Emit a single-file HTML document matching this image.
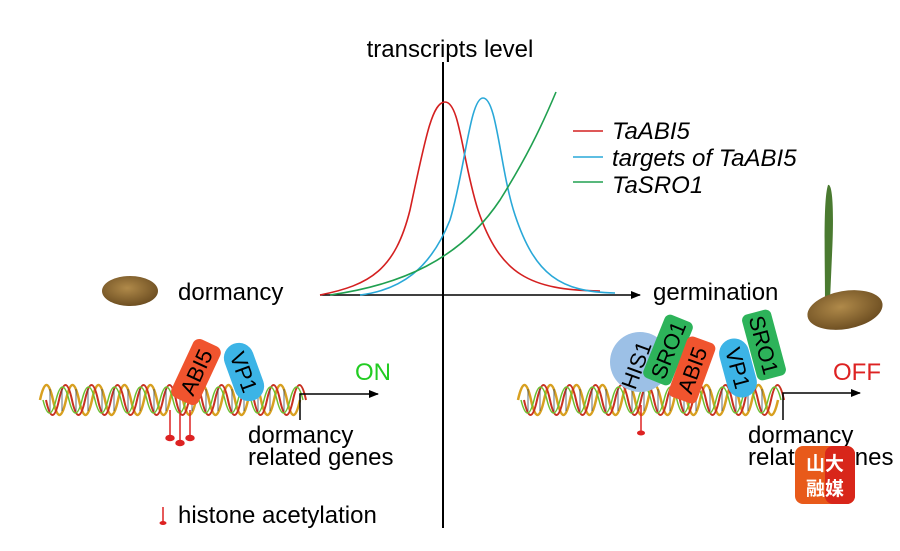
<!DOCTYPE html>
<html><head><meta charset="utf-8"><style>
body{margin:0;background:#fff;}
svg{display:block;font-family:"Liberation Sans","Noto Sans CJK SC",sans-serif;}
</style></head><body>
<svg width="900" height="551" viewBox="0 0 900 551" xmlns="http://www.w3.org/2000/svg">
<defs>
<marker id="ar" markerWidth="10" markerHeight="8" refX="9" refY="4" orient="auto" markerUnits="userSpaceOnUse"><path d="M0,0 L10,4 L0,8 z" fill="#000"/></marker>
<radialGradient id="seed" cx="0.45" cy="0.4" r="0.6"><stop offset="0" stop-color="#b08a4a"/><stop offset="1" stop-color="#6e4f22"/></radialGradient>
</defs>
<!-- axes -->
<line x1="443" y1="528" x2="443" y2="62" stroke="#000" stroke-width="2"/>
<line x1="320" y1="295" x2="640" y2="295" stroke="#000" stroke-width="1.5" marker-end="url(#ar)"/>
<text x="450" y="57" font-size="24" text-anchor="middle">transcripts level</text>
<text x="178" y="300" font-size="24">dormancy</text>
<text x="653" y="300" font-size="24">germination</text>
<!-- curves -->
<path d="M320,295 C370,285 395,270 410,210 C425,140 432,102 445,102 C460,102 462,160 478,210 C500,275 530,290 600,291" fill="none" stroke="#d42020" stroke-width="1.6"/>
<path d="M360,295 C400,290 430,270 450,220 C465,170 470,98 483,98 C497,98 500,170 515,215 C535,275 560,292 615,293" fill="none" stroke="#29a8d8" stroke-width="1.6"/>
<path d="M330,295 C400,285 460,260 500,200 C525,160 540,130 556,92" fill="none" stroke="#20a050" stroke-width="1.6"/>
<!-- legend -->
<line x1="573" y1="131" x2="603" y2="131" stroke="#d42020" stroke-width="1.6"/>
<line x1="573" y1="157" x2="603" y2="157" stroke="#29a8d8" stroke-width="1.6"/>
<line x1="573" y1="182" x2="603" y2="182" stroke="#20a050" stroke-width="1.6"/>
<g font-size="24" font-style="italic">
<text x="612" y="139">TaABI5</text>
<text x="612" y="166">targets of TaABI5</text>
<text x="612" y="193">TaSRO1</text>
</g>
<!-- seeds -->
<ellipse cx="130" cy="291" rx="28" ry="15" fill="url(#seed)"/>
<path d="M828,185 C833,183 834,215 832,255 L830,300 L825,300 C825,260 823,200 828,185 z" fill="#4a7a30"/>
<ellipse cx="845" cy="310" rx="38" ry="19" fill="url(#seed)" transform="rotate(-10 845 310)"/>
<!-- left DNA -->
<g id="dna1">
<path d="M40,400 q6.5,-30 13,0 t13,0 t13,0 t13,0 t13,0 t13,0 t13,0 t13,0 t13,0 t13,0 t13,0 t13,0 t13,0 t13,0 t13,0 t13,0 t13,0 t13,0 t13,0 t13,0" fill="none" stroke="#d8a020" stroke-width="2.5"/>
<path d="M46,400 q6.5,30 13,0 t13,0 t13,0 t13,0 t13,0 t13,0 t13,0 t13,0 t13,0 t13,0 t13,0 t13,0 t13,0 t13,0 t13,0 t13,0 t13,0 t13,0 t13,0 t13,0" fill="none" stroke="#c83020" stroke-width="2"/>
<path d="M43,400 q6.5,26 13,0 t13,0 t13,0 t13,0 t13,0 t13,0 t13,0 t13,0 t13,0 t13,0 t13,0 t13,0 t13,0 t13,0 t13,0 t13,0 t13,0 t13,0 t13,0 t13,0" fill="none" stroke="#6bc030" stroke-width="1.5"/>
<path d="M50,389v22M62,389v22M76,389v22M88,389v22M102,389v22M114,389v22M128,389v22M140,389v22M154,389v22M166,389v22M180,389v22M192,389v22M206,389v22M218,389v22M232,389v22M244,389v22M258,389v22M270,389v22M284,389v22" stroke="#345" stroke-width="1.3" opacity="0.6"/>
</g>
<use href="#dna1" transform="translate(478,0)"/>
<!-- left arrow -->
<path d="M300,420 V394 H378" fill="none" stroke="#000" stroke-width="1.5" marker-end="url(#ar)"/>
<text x="355" y="380" font-size="24" fill="#2c2">ON</text>
<!-- histone marks left -->
<g stroke="#d22" stroke-width="1.5" fill="#d22">
<line x1="170" y1="410" x2="170" y2="437"/><ellipse cx="170" cy="438" rx="4" ry="2.5"/>
<line x1="180" y1="410" x2="180" y2="442"/><ellipse cx="180" cy="443" rx="4" ry="2.5"/>
<line x1="190" y1="410" x2="190" y2="437"/><ellipse cx="190" cy="438" rx="4" ry="2.5"/>
</g>
<!-- proteins left -->
<g transform="translate(196,372) rotate(-65)"><rect x="-32" y="-15" width="64" height="30" rx="7" fill="#f0542e"/><text x="0" y="8" font-size="22" text-anchor="middle">ABI5</text></g>
<g transform="translate(244,372) rotate(70)"><rect x="-30" y="-15" width="60" height="30" rx="15" fill="#3cb4e6"/><text x="0" y="8" font-size="22" text-anchor="middle">VP1</text></g>
<text x="248" y="443" font-size="24">dormancy</text>
<text x="248" y="465" font-size="24">related genes</text>
<line x1="163" y1="507" x2="163" y2="522" stroke="#d22" stroke-width="1.5"/><ellipse cx="163" cy="523" rx="3.5" ry="2" fill="#d22"/>
<text x="178" y="523" font-size="24">histone acetylation</text>
<!-- right side -->
<path d="M783,420 V393 H860" fill="none" stroke="#000" stroke-width="1.5" marker-end="url(#ar)"/>
<text x="833" y="380" font-size="24" fill="#d22">OFF</text>
<line x1="641" y1="405" x2="641" y2="432" stroke="#d22" stroke-width="1.5"/><ellipse cx="641" cy="433" rx="4" ry="2.5" fill="#d22"/>
<circle cx="640" cy="362" r="30" fill="#9cc0e6"/>
<text transform="translate(636,365) rotate(-70)" x="0" y="8" font-size="22" text-anchor="middle">HIS1</text>
<g transform="translate(668,350) rotate(-68)"><rect x="-34" y="-15" width="68" height="30" rx="6" fill="#2db35a"/><text x="0" y="8" font-size="22" text-anchor="middle">SRO1</text></g>
<g transform="translate(692,370) rotate(-70)"><rect x="-32" y="-15" width="64" height="30" rx="6" fill="#f0542e"/><text x="0" y="8" font-size="22" text-anchor="middle">ABI5</text></g>
<g transform="translate(738,368) rotate(75)"><rect x="-30" y="-15" width="60" height="30" rx="15" fill="#3cb4e6"/><text x="0" y="8" font-size="22" text-anchor="middle">VP1</text></g>
<g transform="translate(764,345) rotate(75)"><rect x="-34" y="-15" width="68" height="30" rx="6" fill="#2db35a"/><text x="0" y="8" font-size="22" text-anchor="middle">SRO1</text></g>
<text x="748" y="443" font-size="24">dormancy</text>
<text x="748" y="465" font-size="24">related genes</text>
<!-- logo -->
<rect x="795" y="446" width="60" height="58" rx="8" fill="#e85a1a"/>
<rect x="825" y="446" width="30" height="58" rx="8" fill="#d8261a"/>
<text x="825" y="470" font-size="19" font-weight="bold" fill="#fff" text-anchor="middle">山大</text>
<text x="825" y="495" font-size="19" font-weight="bold" fill="#fff" text-anchor="middle">融媒</text>
</svg>
</body></html>
